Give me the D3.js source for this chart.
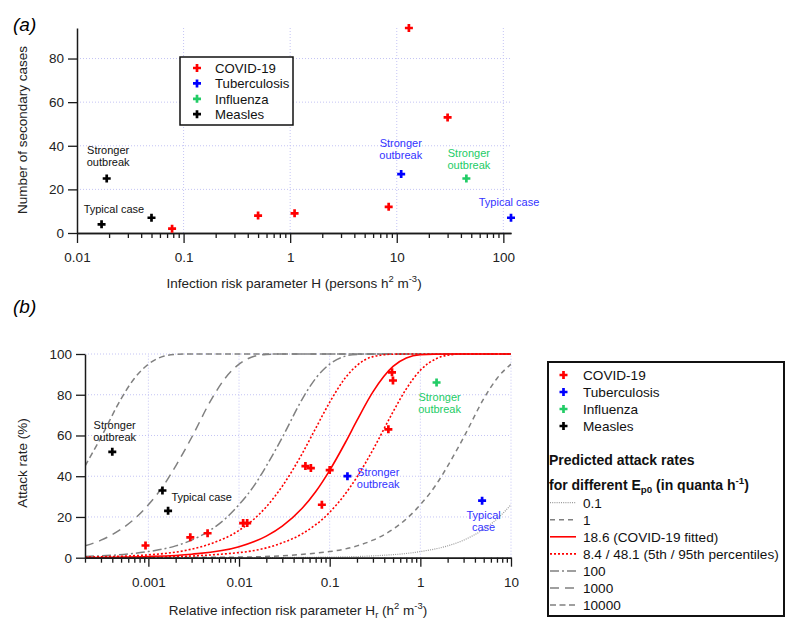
<!DOCTYPE html>
<html><head><meta charset="utf-8">
<script src="https://cdn.jsdelivr.net/npm/d3@7"></script>
<style>body{margin:0;background:#fff}svg{font-family:"Liberation Sans",Arial,sans-serif}</style>
</head><body><svg id="c" width="800" height="633"></svg>
<script>
// ---------- DATA ----------
const seriesNames = ["COVID-19", "Tuberculosis", "Influenza", "Measles"];

// Panel (a): infection risk parameter H vs number of secondary cases
const aCovidH = [0.078, 0.5, 1.1, 8.4, 13, 30];
const aCovidN = [2, 8, 9, 12, 94, 53];
const aTbH = [11, 118];
const aTbN = [27, 7];
const aFluH = [45];
const aFluN = [25];
const aMeaslesH = [0.017, 0.019, 0.05];
const aMeaslesN = [4, 25, 7];
const aYTicks = [0, 20, 40, 60, 80];
const aXTicks = [0.01, 0.1, 1, 10, 100];
const aXTickLabels = ["0.01", "0.1", "1", "10", "100"];

// Panel (b): relative infection risk parameter Hr vs attack rate (%)
const bCovidHr = [0.00093, 0.0029, 0.0045, 0.0111, 0.0123, 0.054, 0.062, 0.1, 0.082, 0.444, 0.487, 0.499];
const bCovidAR = [6, 10, 12, 17, 17, 45, 44, 43, 26, 63, 91, 87];
const bTbHr = [0.157, 4.8];
const bTbAR = [40, 28];
const bFluHr = [1.51];
const bFluAR = [86];
const bMeaslesHr = [0.0004, 0.00143, 0.00165];
const bMeaslesAR = [52, 33, 23];
const bYTicks = [0, 20, 40, 60, 80, 100];
const bXTicks = [0.001, 0.01, 0.1, 1, 10];
const bXTickLabels = ["0.001", "0.01", "0.1", "1", "10"];

// Predicted attack-rate curves for different Ep0
const curveEp0_0_1 = [[0.0002,0],[0.01,0.03],[0.1,0.3],[0.3,0.9],[1,3],[2,5.8],[3,8.6],[5,14],[7,19],[10,26]];
const curveEp0_1 = [[0.0002,0],[0.01,0.3],[0.1,3],[0.2,5.8],[0.3,8.6],[0.5,14],[0.7,19],[1,26],[1.5,36],[2,45],[3,59],[5,78],[7,88],[10,95]];
const curveEp0_18_6 = [[0.0002,0.1],[0.001,0.6],[0.003,1.7],[0.01,5.4],[0.02,10.6],[0.03,15.5],[0.05,24.4],[0.07,32.4],[0.1,42.9],[0.15,56.8],[0.2,67.4],[0.3,81.4],[0.5,93.9],[0.7,98],[1,99.6],[2,100],[10,100]];
const curveEp0_8_4 = [[0.0002,0.05],[0.001,0.25],[0.01,2.5],[0.03,7.3],[0.05,11.8],[0.1,22.3],[0.2,39.6],[0.3,53],[0.5,71.6],[0.7,82.9],[1,92],[1.5,97.7],[2,99.4],[3,100],[10,100]];
const curveEp0_48_1 = [[0.0002,0.3],[0.001,1.4],[0.003,4.2],[0.005,7],[0.01,13.4],[0.02,25],[0.03,35.1],[0.05,51.3],[0.07,63.5],[0.1,76.3],[0.15,88.5],[0.2,94.4],[0.3,98.7],[0.5,99.9],[1,100],[10,100]];
const curveEp0_100 = [[0.0002,0.6],[0.001,3],[0.002,5.8],[0.003,8.6],[0.005,14],[0.007,19],[0.01,26],[0.015,36],[0.02,45],[0.03,59],[0.05,78],[0.07,88],[0.1,95],[0.15,99],[0.2,99.8],[0.3,100],[10,100]];
const curveEp0_1000 = [[0.0002,5.8],[0.0003,8.6],[0.0005,14],[0.0007,19],[0.001,26],[0.0015,36],[0.002,45],[0.003,59],[0.005,78],[0.007,88],[0.01,95],[0.015,99],[0.02,99.8],[0.03,100],[10,100]];
const curveEp0_10000 = [[0.0002,45],[0.0003,59],[0.0005,78],[0.0007,88],[0.001,95],[0.0015,99],[0.002,99.8],[0.003,100],[10,100]];
const curveLabels = ["0.1", "1", "18.6 (COVID-19 fitted)", "8.4 / 48.1 (5th / 95th percentiles)", "100", "1000", "10000"];

// Annotations [x, y (data coords of first line centre), lines]
const aNotes = [
  [0.0196, 38, ["Stronger", "outbreak"], 3],
  [0.0222, 11, ["Typical case"], 3],
  [10.9, 41.3, ["Stronger", "outbreak"], 1],
  [47.5, 36.4, ["Stronger", "outbreak"], 2],
  [113, 14.2, ["Typical case"], 1]
];
const bNotes = [
  [0.000425, 64.9, ["Stronger", "outbreak"], 3],
  [0.00387, 29.8, ["Typical case"], 3],
  [0.343, 42.2, ["Stronger", "outbreak"], 1],
  [1.63, 79, ["Stronger", "outbreak"], 2],
  [4.99, 21, ["Typical", "case"], 1]
];

// ---------- STYLE ----------
const colors = ["#ff0000", "#0000ff", "#22cc66", "#000000"];
const noteColors = ["#ff0000", "#3333ff", "#22cc66", "#111111"];
const gridColor = "#c4c4f4";
const axisColor = "#1a1a1a";
const FONT_TICK = 13.5, FONT_TITLE = 13.5, FONT_NOTE = 11;

const svg = d3.select("#c");

function minorTicks(lo, hi) {
  const out = [];
  for (let e = Math.floor(Math.log10(lo)); e <= Math.ceil(Math.log10(hi)); e++) {
    for (let m = 2; m <= 9; m++) {
      const v = m * Math.pow(10, e);
      if (v >= lo * 0.999 && v <= hi * 1.001) out.push(v);
    }
  }
  return out;
}

function plus(g, x, y, color) {
  g.append("path")
    .attr("d", `M${x - 4},${y}H${x + 4}M${x},${y - 4}V${y + 4}`)
    .attr("stroke", color).attr("stroke-width", 2.7).attr("fill", "none");
}

function styleAxis(g) {
  g.selectAll("path.domain").attr("stroke", axisColor).attr("stroke-width", 1.5);
  g.selectAll(".tick line").attr("stroke", axisColor).attr("stroke-width", 1.3);
  g.selectAll(".tick text").attr("fill", "#222").style("font-size", FONT_TICK + "px")
    .style("font-family", '"Liberation Sans",Arial,sans-serif');
}

function supText(sel, parts) {
  // parts: [text, mode] mode: 0 normal, 1 sup, -1 sub
  parts.forEach(([t, m]) => {
    const ts = sel.append("tspan").text(t);
    if (m === 1) ts.attr("dy", -6).style("font-size", "0.7em");
    if (m === -1) ts.attr("dy", 3).style("font-size", "0.7em");
    if (m === 2) ts.attr("dy", 6);   // return from sup
    if (m === -2) ts.attr("dy", -3); // return from sub
  });
}

function notes(g, arr, xs, ys) {
  arr.forEach(([x, y, lines, ci]) => {
    lines.forEach((l, i) => {
      g.append("text").attr("x", xs(x)).attr("y", ys(y) + i * 12)
        .attr("dy", "0.35em").attr("text-anchor", "middle")
        .style("font-size", FONT_NOTE + "px").attr("fill", noteColors[ci]).text(l);
    });
  });
}

// ================= PANEL (a) =================
{
  const xA = d3.scaleLog().domain([0.01, 118]).range([77, 511]);
  const yA = d3.scaleLinear().domain([0, 94]).range([233, 28]);
  const g = svg.append("g");

  svg.append("text").attr("x", 13).attr("y", 31).style("font-size", "19px")
    .style("font-style", "italic").text("(a)");

  // grid
  aYTicks.slice(1).forEach(v => g.append("line").attr("x1", xA.range()[0]).attr("x2", xA.range()[1])
    .attr("y1", yA(v)).attr("y2", yA(v)).attr("stroke", gridColor).attr("stroke-dasharray", "1,2"));
  aXTicks.slice(1).forEach(v => g.append("line").attr("x1", xA(v)).attr("x2", xA(v))
    .attr("y1", yA.range()[0]).attr("y2", yA.range()[1]).attr("stroke", gridColor).attr("stroke-dasharray", "1,2"));

  // axes
  const gx = g.append("g").attr("transform", `translate(0,${yA(0)})`)
    .call(d3.axisBottom(xA).tickValues(aXTicks).tickFormat((d, i) => aXTickLabels[i]).tickSize(10).tickSizeOuter(0).tickPadding(9));
  styleAxis(gx);
  const gxm = g.append("g").attr("transform", `translate(0,${yA(0)})`)
    .call(d3.axisBottom(xA).tickValues(minorTicks(0.01, 118)).tickFormat("").tickSize(5).tickSizeOuter(0));
  styleAxis(gxm);
  const gy = g.append("g").attr("transform", `translate(${xA.range()[0]},0)`)
    .call(d3.axisLeft(yA).tickValues(aYTicks).tickSize(9).tickSizeOuter(0).tickPadding(4));
  styleAxis(gy);

  // titles
  const tx = g.append("text").attr("x", 294).attr("y", 288).attr("text-anchor", "middle")
    .style("font-size", FONT_TITLE + "px").attr("fill", "#222");
  supText(tx, [["Infection risk parameter H (persons h", 0], ["2", 1], [" m", 2], ["-3", 1], [")", 2]]);
  g.append("text").attr("transform", "translate(27,130) rotate(-90)").attr("text-anchor", "middle")
    .style("font-size", FONT_TITLE + "px").attr("fill", "#222").text("Number of secondary cases");

  // points
  const sets = [[aCovidH, aCovidN], [aTbH, aTbN], [aFluH, aFluN], [aMeaslesH, aMeaslesN]];
  sets.forEach(([xs, ys], si) => xs.forEach((v, i) => plus(g, xA(v), yA(ys[i]), colors[si])));

  notes(g, aNotes, xA, yA);

  // legend
  const lg = g.append("g");
  lg.append("rect").attr("x", 180).attr("y", 57).attr("width", 113).attr("height", 68)
    .attr("fill", "#fff").attr("stroke", "#111").attr("stroke-width", 1.5);
  seriesNames.forEach((n, i) => {
    const yy = 68 + i * 15.4;
    plus(lg, 197, yy, colors[i]);
    lg.append("text").attr("x", 215).attr("y", yy).attr("dy", "0.36em")
      .style("font-size", "13.2px").attr("fill", "#111").text(n);
  });
}

// ================= PANEL (b) =================
{
  const xB = d3.scaleLog().domain([0.0002, 10]).range([85, 511]);
  const yB = d3.scaleLinear().domain([0, 100]).range([557.7, 354]);
  const g = svg.append("g");

  svg.append("text").attr("x", 13).attr("y", 313).style("font-size", "19px")
    .style("font-style", "italic").text("(b)");

  bYTicks.slice(1).forEach(v => g.append("line").attr("x1", xB.range()[0]).attr("x2", xB.range()[1])
    .attr("y1", yB(v)).attr("y2", yB(v)).attr("stroke", gridColor).attr("stroke-dasharray", "1,2"));
  bXTicks.forEach(v => g.append("line").attr("x1", xB(v)).attr("x2", xB(v))
    .attr("y1", yB.range()[0]).attr("y2", yB.range()[1]).attr("stroke", gridColor).attr("stroke-dasharray", "1,2"));

  // curves
  const clip = svg.append("defs").append("clipPath").attr("id", "clipB");
  clip.append("rect").attr("x", 85).attr("y", 350).attr("width", 426).attr("height", 210);
  const line = d3.line().x(d => xB(d[0])).y(d => yB(d[1])).curve(d3.curveMonotoneX);
  const cg = g.append("g").attr("clip-path", "url(#clipB)");
  const grayCurves = [
    [curveEp0_0_1, "#9a9a9a", "1,1.2", 1.2],
    [curveEp0_1, "#808080", "5,4", 1.5],
    [curveEp0_100, "#808080", "9,3,2,3", 1.5],
    [curveEp0_1000, "#808080", "9,6", 1.5],
    [curveEp0_10000, "#808080", "6,3.5", 1.5]
  ];
  grayCurves.forEach(([d, c, da, w]) => cg.append("path").attr("d", line(d)).attr("fill", "none")
    .attr("stroke", c).attr("stroke-dasharray", da).attr("stroke-width", w));
  [curveEp0_8_4, curveEp0_48_1].forEach(d => cg.append("path").attr("d", line(d)).attr("fill", "none")
    .attr("stroke", "#ff0000").attr("stroke-dasharray", "2,2").attr("stroke-width", 1.6));
  cg.append("path").attr("d", line(curveEp0_18_6)).attr("fill", "none")
    .attr("stroke", "#ff0000").attr("stroke-width", 1.6);

  // axes
  const gx = g.append("g").attr("transform", `translate(0,${yB(0)})`)
    .call(d3.axisBottom(xB).tickValues(bXTicks).tickFormat((d, i) => bXTickLabels[i]).tickSize(9).tickSizeOuter(0).tickPadding(11));
  styleAxis(gx);
  const gxm = g.append("g").attr("transform", `translate(0,${yB(0)})`)
    .call(d3.axisBottom(xB).tickValues(minorTicks(0.0002, 10)).tickFormat("").tickSize(5).tickSizeOuter(0));
  styleAxis(gxm);
  const gy = g.append("g").attr("transform", `translate(${xB.range()[0]},0)`)
    .call(d3.axisLeft(yB).tickValues(bYTicks).tickSize(9).tickSizeOuter(0).tickPadding(4));
  styleAxis(gy);

  const tx = g.append("text").attr("x", 298).attr("y", 615).attr("text-anchor", "middle")
    .style("font-size", FONT_TITLE + "px").attr("fill", "#222");
  supText(tx, [["Relative infection risk parameter H", 0], ["r", -1], [" (h", -2], ["2", 1], [" m", 2], ["-3", 1], [")", 2]]);
  g.append("text").attr("transform", "translate(27,463) rotate(-90)").attr("text-anchor", "middle")
    .style("font-size", FONT_TITLE + "px").attr("fill", "#222").text("Attack rate (%)");

  const sets = [[bCovidHr, bCovidAR], [bTbHr, bTbAR], [bFluHr, bFluAR], [bMeaslesHr, bMeaslesAR]];
  sets.forEach(([xs, ys], si) => xs.forEach((v, i) => plus(g, xB(v), yB(ys[i]), colors[si])));

  notes(g, bNotes, xB, yB);

  // legend
  const lg = g.append("g");
  lg.append("rect").attr("x", 548).attr("y", 362).attr("width", 236).attr("height", 254)
    .attr("fill", "#fff").attr("stroke", "#111").attr("stroke-width", 2);
  seriesNames.forEach((n, i) => {
    const yy = 375 + i * 17;
    plus(lg, 563.5, yy, colors[i]);
    lg.append("text").attr("x", 583).attr("y", yy).attr("dy", "0.36em")
      .style("font-size", "13.6px").attr("fill", "#111").text(n);
  });
  lg.append("text").attr("x", 549).attr("y", 460).attr("dy", "0.36em").style("font-size", "14px")
    .style("font-weight", "bold").attr("fill", "#111").text("Predicted attack rates");
  const t2 = lg.append("text").attr("x", 549).attr("y", 485).attr("dy", "0.36em").style("font-size", "14px")
    .style("font-weight", "bold").attr("fill", "#111");
  supText(t2, [["for different E", 0], ["p0", -1], [" (in quanta h", -2], ["-1", 1], [")", 2]]);

  const legStyles = [
    ["#9a9a9a", "1,1.2", 1.2], ["#808080", "5,4", 1.5], ["#ff0000", null, 1.6], ["#ff0000", "2,2", 1.6],
    ["#808080", "9,3,2,3", 1.5], ["#808080", "9,6", 1.5], ["#808080", "6,3.5", 1.5]
  ];
  curveLabels.forEach((lab, i) => {
    const yy = 502.7 + i * 17.05;
    const [c, da, w] = legStyles[i];
    const ln = lg.append("line").attr("x1", 550).attr("x2", 576).attr("y1", yy).attr("y2", yy)
      .attr("stroke", c).attr("stroke-width", w);
    if (da) ln.attr("stroke-dasharray", da);
    lg.append("text").attr("x", 583).attr("y", yy).attr("dy", "0.36em")
      .style("font-size", "13.6px").attr("fill", "#111").text(lab);
  });
}
</script></body></html>
